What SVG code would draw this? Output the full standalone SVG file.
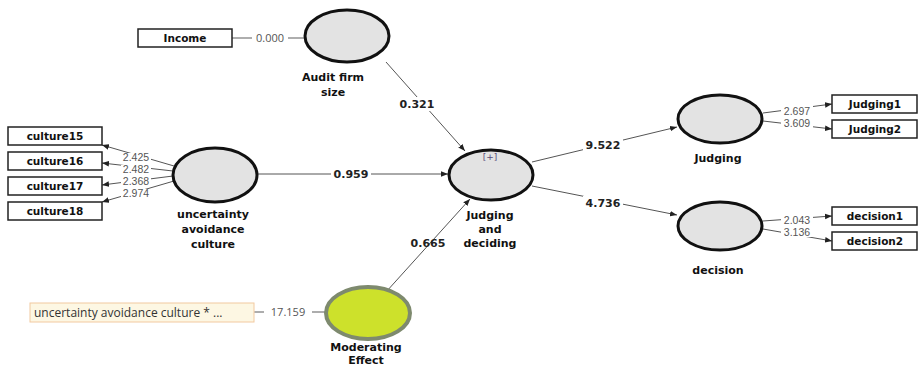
<svg xmlns="http://www.w3.org/2000/svg" width="918" height="367" viewBox="0 0 918 367">
<defs>
<marker id="ah" viewBox="0 0 10 10" refX="10" refY="5" markerWidth="7" markerHeight="7" orient="auto" markerUnits="userSpaceOnUse"><path d="M0,1 L10,5 L0,9 z" fill="#222"/></marker>
</defs>
<style>
.lv{fill:#e3e3e3;stroke:#111;stroke-width:3}
.box{fill:#fff;stroke:#222;stroke-width:1.5}
.bt{font-family:"DejaVu Sans",Verdana,sans-serif;font-weight:bold;font-size:10.5px;fill:#111;text-anchor:middle}
.lt{font-family:"DejaVu Sans",Verdana,sans-serif;font-weight:bold;font-size:11px;fill:#111;text-anchor:middle}
.pc{font-family:"DejaVu Sans",Verdana,sans-serif;font-weight:bold;font-size:11px;fill:#222;text-anchor:middle}
.ld{font-family:"Open Sans","DejaVu Sans",sans-serif;font-size:11px;fill:#555;text-anchor:middle}
.ls{font-family:"Liberation Sans",Arial,sans-serif;font-size:10.5px;fill:#555;text-anchor:middle}
.c{stroke:#555;stroke-width:1;fill:none}
.cg{stroke:#777;stroke-width:1.2;fill:none}
</style>
<g id="connectors">
<line class="cg" x1="232" y1="38" x2="252" y2="38"/>
<line class="cg" x1="288" y1="38" x2="304" y2="38"/>
<line class="c" x1="386" y1="62" x2="465" y2="151" marker-end="url(#ah)"/>
<line class="c" x1="258" y1="174" x2="448" y2="174" marker-end="url(#ah)"/>
<line class="c" x1="386" y1="292" x2="470" y2="199" marker-end="url(#ah)"/>
<line class="c" x1="532" y1="162" x2="677" y2="127" marker-end="url(#ah)"/>
<line class="c" x1="532" y1="186" x2="677" y2="215" marker-end="url(#ah)"/>
<line class="c" x1="174" y1="166" x2="102" y2="145" marker-end="url(#ah)"/>
<line class="c" x1="173" y1="171" x2="102" y2="163" marker-end="url(#ah)"/>
<line class="c" x1="173" y1="176" x2="102" y2="185" marker-end="url(#ah)"/>
<line class="c" x1="174" y1="181" x2="102" y2="202" marker-end="url(#ah)"/>
<line class="c" x1="763" y1="113" x2="832" y2="104" marker-end="url(#ah)"/>
<line class="c" x1="763" y1="121" x2="832" y2="129" marker-end="url(#ah)"/>
<line class="c" x1="763" y1="221" x2="832" y2="216" marker-end="url(#ah)"/>
<line class="c" x1="763" y1="229" x2="832" y2="241" marker-end="url(#ah)"/>
<line class="cg" x1="254" y1="312" x2="264" y2="312" stroke-width="2"/>
<line class="cg" x1="312" y1="312" x2="325" y2="312" stroke-width="2"/>
<rect x="252" y="31" width="36" height="14" fill="#fff"/>
<text class="ld" x="270" y="42">0.000</text>
<rect x="398" y="97" width="38" height="14" fill="#fff"/>
<text class="pc" x="417" y="108">0.321</text>
<rect x="331" y="167" width="40" height="14" fill="#fff"/>
<text class="pc" x="351" y="178">0.959</text>
<text class="pc" x="428" y="247">0.665</text>
<rect x="583" y="138" width="40" height="14" fill="#fff"/>
<text class="pc" x="603" y="149">9.522</text>
<rect x="583" y="196" width="40" height="14" fill="#fff"/>
<text class="pc" x="603" y="207">4.736</text>
<rect x="121" y="153" width="30" height="9" fill="#fff"/>
<rect x="121" y="165" width="30" height="9" fill="#fff"/>
<rect x="121" y="177" width="30" height="9" fill="#fff"/>
<rect x="121" y="189" width="30" height="9" fill="#fff"/>
<text class="ls" x="136" y="161">2.425</text>
<text class="ls" x="136" y="173">2.482</text>
<text class="ls" x="136" y="185">2.368</text>
<text class="ls" x="136" y="197">2.974</text>
<rect x="781" y="106" width="32" height="10" fill="#fff"/>
<text class="ls" x="797" y="115">2.697</text>
<rect x="781" y="118" width="32" height="10" fill="#fff"/>
<text class="ls" x="797" y="127">3.609</text>
<rect x="781" y="215" width="32" height="10" fill="#fff"/>
<text class="ls" x="797" y="224">2.043</text>
<rect x="781" y="227" width="32" height="10" fill="#fff"/>
<text class="ls" x="797" y="236">3.136</text>
<text class="ld" x="288" y="316" font-size="12" fill="#333">17.159</text>
</g>
<g id="income"><rect class="box" x="138" y="29" width="94" height="18"/><text class="bt" x="185" y="42">Income</text></g>
<g id="culture15"><rect class="box" x="8" y="127" width="94" height="18"/><text class="bt" x="55" y="140">culture15</text></g>
<g id="culture16"><rect class="box" x="8" y="152" width="94" height="18"/><text class="bt" x="55" y="165">culture16</text></g>
<g id="culture17"><rect class="box" x="8" y="177" width="94" height="18"/><text class="bt" x="55" y="190">culture17</text></g>
<g id="culture18"><rect class="box" x="8" y="202" width="94" height="18"/><text class="bt" x="55" y="215">culture18</text></g>
<g id="judging1"><rect class="box" x="832" y="95" width="85" height="18"/><text class="bt" x="875" y="108">Judging1</text></g>
<g id="judging2"><rect class="box" x="832" y="120" width="85" height="18"/><text class="bt" x="875" y="133">Judging2</text></g>
<g id="decision1"><rect class="box" x="832" y="207" width="85" height="18"/><text class="bt" x="875" y="220">decision1</text></g>
<g id="decision2"><rect class="box" x="832" y="232" width="85" height="18"/><text class="bt" x="875" y="245">decision2</text></g>
<g id="interaction"><rect x="30" y="303" width="224" height="19" fill="#fdf7e3" stroke="#f2c9a0" stroke-width="1"/><text x="34" y="317" font-family="'Open Sans','DejaVu Sans',sans-serif" font-size="12" fill="#333">uncertainty avoidance culture * ...</text></g>
<g id="audit"><ellipse class="lv" cx="347" cy="36" rx="42" ry="26"/><text class="lt" x="333" y="81">Audit firm</text><text class="lt" x="333" y="96">size</text></g>
<g id="uac"><ellipse class="lv" cx="215" cy="175" rx="42" ry="27"/><text class="lt" x="213" y="218">uncertainty</text><text class="lt" x="213" y="233">avoidance</text><text class="lt" x="213" y="248">culture</text></g>
<g id="jd"><ellipse class="lv" cx="491" cy="175" rx="42" ry="25"/><text x="490" y="160" font-family="'DejaVu Sans',sans-serif" font-size="9" fill="#5a4a7a" text-anchor="middle">[+]</text><text class="lt" x="490" y="219">Judging</text><text class="lt" x="490" y="233">and</text><text class="lt" x="490" y="247">deciding</text></g>
<g id="moderating"><ellipse cx="368" cy="313" rx="42" ry="26" fill="#cde12b" stroke="#7e8a6e" stroke-width="4"/><text class="lt" x="366" y="351" font-size="9.5">Moderating</text><text class="lt" x="366" y="364" font-size="9">Effect</text></g>
<g id="judging"><ellipse class="lv" cx="720" cy="119" rx="42" ry="24"/><text class="lt" x="718" y="162">Judging</text></g>
<g id="decision"><ellipse class="lv" cx="720" cy="226" rx="42" ry="24"/><text class="lt" x="718" y="274">decision</text></g>
</svg>
